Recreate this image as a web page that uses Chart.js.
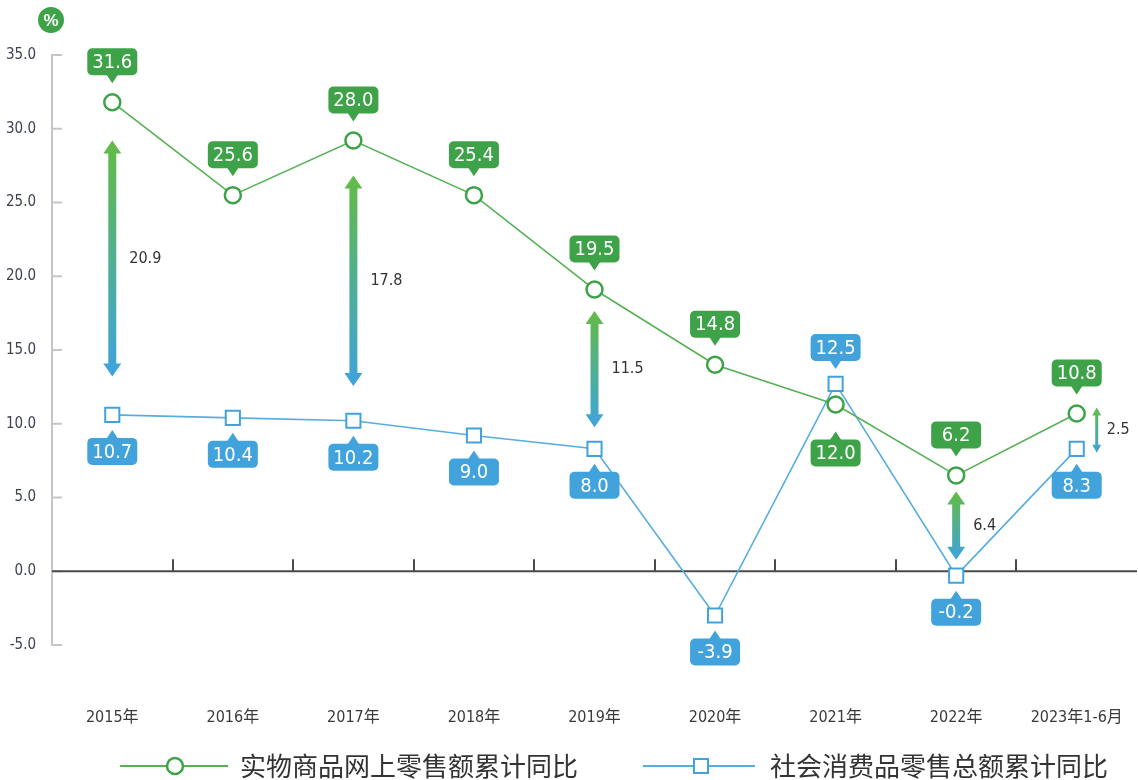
<!DOCTYPE html>
<html lang="zh-CN">
<head>
<meta charset="UTF-8">
<title>实物商品网上零售额累计同比</title>
<script src="https://cdn.jsdelivr.net/npm/chart.js"></script>
<style>
  html, body { margin: 0; padding: 0; background: #fff; }
  #wrap { width: 1138px; height: 780px; }
</style>
</head>
<body>
<div id="wrap"><canvas id="chart" width="1138" height="780"></canvas></div>
<script>
// categories
const years = ['2015年', '2016年', '2017年', '2018年', '2019年', '2020年', '2021年', '2022年', '2023年1-6月'];

// series values, as plotted in the picture
const onlineValues = [31.8, 25.5, 29.2, 25.5, 19.1, 14.0, 11.3, 6.5, 10.7];
const retailValues = [10.6, 10.4, 10.2, 9.2, 8.3, -3.0, 12.7, -0.3, 8.3];

// printed data labels
const onlineLabels = ['31.6', '25.6', '28.0', '25.4', '19.5', '14.8', '12.0', '6.2', '10.8'];
const retailLabels = ['10.7', '10.4', '10.2', '9.0', '8.0', '-3.9', '12.5', '-0.2', '8.3'];

// gap arrows between the two series
const gapIndex = [0, 2, 4, 7, 8];
const gapLabels = ['20.9', '17.8', '11.5', '6.4', '2.5'];

const seriesNames = ['实物商品网上零售额累计同比', '社会消费品零售总额累计同比'];

const GREEN = '#3ea248';
const GREEN_LINE = '#55b154';
const BLUE = '#42a3dc';
const BLUE_LINE = '#56ade0';
const NUM_FONT = "'Liberation Sans Narrow', 'DejaVu Sans Condensed', 'Noto Sans CJK SC', sans-serif";

function callout(ctx, cx, py, text, color, above, tipGap) {
  const w = 50, h = 27, r = 5, ph = 8, pw = 6;
  const tip = above ? py - tipGap : py + tipGap;
  const edge = above ? tip - ph : tip + ph;
  const top = above ? edge - h : edge;
  ctx.fillStyle = color;
  ctx.beginPath();
  ctx.roundRect(cx - w / 2, top, w, h, r);
  ctx.fill();
  ctx.beginPath();
  ctx.moveTo(cx - pw, edge + (above ? -1 : 1));
  ctx.lineTo(cx, tip);
  ctx.lineTo(cx + pw, edge + (above ? -1 : 1));
  ctx.closePath();
  ctx.fill();
  ctx.fillStyle = '#fff';
  ctx.font = '20px ' + NUM_FONT;
  ctx.textAlign = 'center';
  ctx.textBaseline = 'middle';
  ctx.fillText(text, cx, top + h / 2 + 1);
}

function arrow(ctx, ax, top, bot, shaft, headW, headH) {
  const g = ctx.createLinearGradient(0, top, 0, bot);
  g.addColorStop(0, '#63bb44');
  g.addColorStop(1, '#3ea3de');
  ctx.fillStyle = g;
  ctx.beginPath();
  ctx.moveTo(ax, top);
  ctx.lineTo(ax + headW / 2, top + headH);
  ctx.lineTo(ax + shaft / 2, top + headH);
  ctx.lineTo(ax + shaft / 2, bot - headH);
  ctx.lineTo(ax + headW / 2, bot - headH);
  ctx.lineTo(ax, bot);
  ctx.lineTo(ax - headW / 2, bot - headH);
  ctx.lineTo(ax - shaft / 2, bot - headH);
  ctx.lineTo(ax - shaft / 2, top + headH);
  ctx.lineTo(ax - headW / 2, top + headH);
  ctx.closePath();
  ctx.fill();
}

function line(ctx, x1, y1, x2, y2) {
  ctx.beginPath();
  ctx.moveTo(x1, y1);
  ctx.lineTo(x2, y2);
  ctx.stroke();
}

const decor = {
  id: 'decor',
  beforeDatasetsDraw(chart) {
    const { ctx, chartArea: a, scales: { x, y } } = chart;
    ctx.save();
    // small inward ticks on the y axis
    ctx.strokeStyle = '#c6c6c6';
    ctx.lineWidth = 2;
    y.ticks.forEach(t => {
      const py = y.getPixelForValue(t.value);
      line(ctx, a.left, py, a.left + 10, py);
    });
    // zero line with category dividers
    const y0 = y.getPixelForValue(0);
    ctx.strokeStyle = '#4a4a4a';
    line(ctx, a.left, y0, a.right, y0);
    for (let i = 1; i < years.length; i++) {
      const bx = Math.round((x.getPixelForValue(i - 1) + x.getPixelForValue(i)) / 2);
      line(ctx, bx, y0, bx, y0 - 12);
    }
    ctx.restore();
  },
  afterDatasetsDraw(chart) {
    const { ctx, scales: { x, y } } = chart;
    ctx.save();

    // gap arrows
    gapIndex.forEach((i, k) => {
      const px = x.getPixelForValue(i);
      const gy = y.getPixelForValue(onlineValues[i]);
      const by = y.getPixelForValue(retailValues[i]);
      const span = by - gy;
      let ax, top, bot;
      if (span < 60) {
        ax = px + 20; top = gy - 6; bot = by + 4;
        arrow(ctx, ax, top, bot, 3, 9, 8);
      } else {
        const gap = Math.max(12, span * 0.11);
        ax = px; top = gy + gap + 4; bot = by - gap - 4;
        arrow(ctx, ax, top, bot, 8, 18, 13);
      }
      ctx.fillStyle = '#333';
      ctx.font = '16px ' + NUM_FONT;
      ctx.textAlign = 'left';
      ctx.textBaseline = 'middle';
      ctx.fillText(gapLabels[k], ax + (span < 60 ? 10 : 17), (top + bot) / 2);
    });

    // data callouts
    years.forEach((_, i) => {
      const px = x.getPixelForValue(i);
      const gy = y.getPixelForValue(onlineValues[i]);
      const by = y.getPixelForValue(retailValues[i]);
      const greenAbove = onlineValues[i] >= retailValues[i];
      callout(ctx, px, gy, onlineLabels[i], GREEN, greenAbove, greenAbove ? 19 : 27);
      callout(ctx, px, by, retailLabels[i], BLUE, !greenAbove, 15);
    });

    // unit badge
    ctx.fillStyle = GREEN;
    ctx.beginPath();
    ctx.arc(51, 20, 13, 0, Math.PI * 2);
    ctx.fill();
    ctx.fillStyle = '#fff';
    ctx.font = "bold 17px 'Liberation Sans', sans-serif";
    ctx.textAlign = 'center';
    ctx.textBaseline = 'middle';
    ctx.fillText('%', 51, 21);

    // legend
    const ly = 766;
    ctx.lineWidth = 2;
    ctx.strokeStyle = GREEN_LINE;
    line(ctx, 120, ly, 228, ly);
    ctx.fillStyle = '#fff';
    ctx.strokeStyle = GREEN;
    ctx.lineWidth = 2.5;
    ctx.beginPath();
    ctx.arc(175, ly, 8, 0, Math.PI * 2);
    ctx.fill();
    ctx.stroke();

    ctx.lineWidth = 2;
    ctx.strokeStyle = BLUE_LINE;
    line(ctx, 643, ly, 755, ly);
    ctx.strokeStyle = BLUE;
    ctx.fillRect(694, ly - 7, 14, 14);
    ctx.strokeRect(694, ly - 7, 14, 14);

    ctx.fillStyle = '#333';
    ctx.font = "26px 'Noto Sans CJK SC', sans-serif";
    ctx.textAlign = 'left';
    ctx.textBaseline = 'middle';
    ctx.fillText(seriesNames[0], 240, ly);
    ctx.fillText(seriesNames[1], 770, ly);
    ctx.restore();
  }
};

new Chart(document.getElementById('chart'), {
  type: 'line',
  data: {
    labels: years,
    datasets: [
      {
        label: seriesNames[0],
        data: onlineValues,
        borderColor: GREEN_LINE,
        borderWidth: 1.6,
        pointStyle: 'circle',
        pointRadius: 8,
        pointBorderWidth: 2.5,
        pointBorderColor: GREEN,
        pointBackgroundColor: '#fff',
        tension: 0
      },
      {
        label: seriesNames[1],
        data: retailValues,
        borderColor: BLUE_LINE,
        borderWidth: 1.6,
        pointStyle: 'rect',
        pointRadius: 10,
        pointBorderWidth: 2,
        pointBorderColor: BLUE,
        pointBackgroundColor: '#fff',
        tension: 0
      }
    ]
  },
  options: {
    responsive: false,
    animation: false,
    layout: { autoPadding: false, padding: { top: 55, right: 1, left: 0, bottom: 0 } },
    plugins: { legend: { display: false }, tooltip: { enabled: false } },
    scales: {
      x: {
        offset: true,
        grid: { display: false, drawTicks: false },
        border: { display: false },
        ticks: { color: '#3a3a3a', padding: 63, font: { family: NUM_FONT, size: 16 } },
        afterFit: s => { s.height = 135; s.paddingLeft = 0; s.paddingRight = 0; }
      },
      y: {
        min: -5,
        max: 35,
        grid: { display: false, drawTicks: false },
        border: { display: true, color: '#c6c6c6', width: 2 },
        ticks: {
          stepSize: 5,
          padding: 16,
          color: '#3d4250',
          font: { family: NUM_FONT, size: 15 },
          callback: v => v.toFixed(1)
        },
        afterFit: s => { s.width = 52; }
      }
    }
  },
  plugins: [decor]
});
</script>
</body>
</html>
